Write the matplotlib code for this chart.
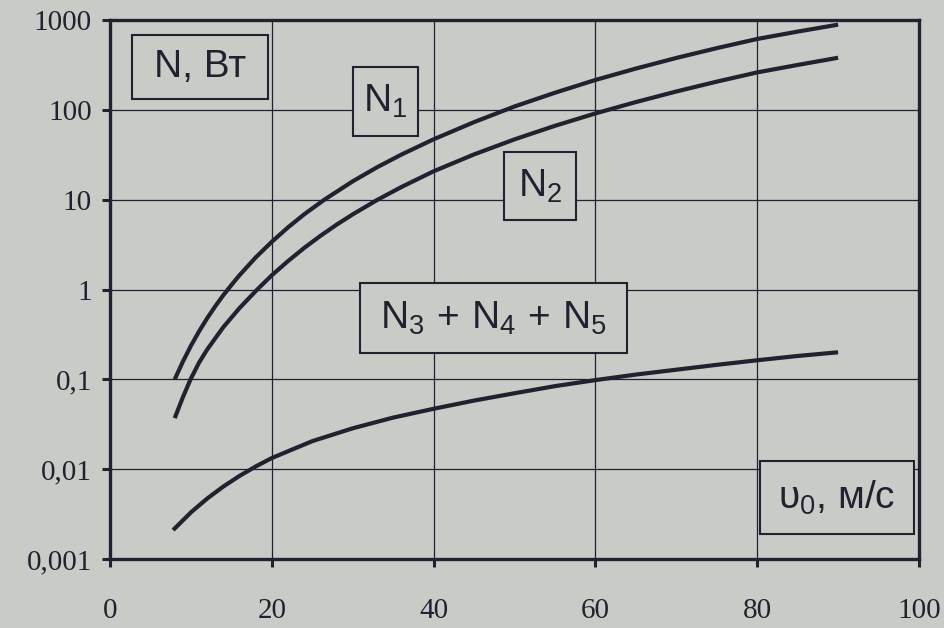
import matplotlib
matplotlib.use("Agg")
import matplotlib.pyplot as plt
from matplotlib.patches import Rectangle
from matplotlib.ticker import FixedLocator, FixedFormatter, NullLocator

# ---- data ----
x_n1 = [8, 9, 10, 11, 12, 13, 14, 15, 16, 18, 20, 22, 24, 26.5, 30, 33, 36, 40,
        45, 50, 55, 60, 65, 70, 75, 80, 85, 90]
n1 = [0.10, 0.157, 0.236, 0.341, 0.477, 0.648, 0.863, 1.12, 1.44, 2.27, 3.4, 4.91,
      6.87, 10.0, 16.0, 22.9, 31.7, 47, 73, 109, 155, 215, 288, 378, 486, 615,
      743, 888]

x_n2 = [8, 9, 10, 11, 12, 14, 16, 18.2, 20, 22, 24, 26, 28, 30, 33, 36, 40, 45,
        50, 55, 60, 65, 70, 75, 80, 85, 90]
n2 = [0.037, 0.063, 0.102, 0.153, 0.214, 0.38, 0.62, 1.0, 1.44, 2.07, 2.9, 3.95,
      5.26, 6.86, 9.9, 13.8, 20.7, 31.9, 46.9, 66.4, 91.2, 122, 160, 206, 261,
      316, 380]

x_n3 = [7.8, 10, 12, 14, 16, 18, 20, 25, 30, 35, 40, 45, 50, 55, 60, 65, 70, 75,
        80, 85, 90]
n345 = [0.0021, 0.0033, 0.0047, 0.0064, 0.0084, 0.0107, 0.0133, 0.0205, 0.0285,
        0.0375, 0.047, 0.058, 0.07, 0.084, 0.098, 0.113, 0.128, 0.145, 0.163,
        0.182, 0.2]

x_ticks = [0, 20, 40, 60, 80, 100]
x_tick_labels = ["0", "20", "40", "60", "80", "100"]
y_ticks = [0.001, 0.01, 0.1, 1, 10, 100, 1000]
y_tick_labels = ["0,001", "0,01", "0,1", "1", "10", "100", "1000"]

label_y = "N, Вт"
label_x = r"$\mathregular{υ_0}$, м/с"
label_n1 = r"$\mathregular{N_1}$"
label_n2 = r"$\mathregular{N_2}$"
label_n345 = r"$\mathregular{N_3\,+\,N_4\,+\,N_5}$"

# ---- style ----
BG = "#c8cbc6"
INK = "#20232f"
plt.rcParams["mathtext.fontset"] = "custom"
plt.rcParams["mathtext.rm"] = "Liberation Sans"
plt.rcParams["mathtext.it"] = "Liberation Sans:italic"
plt.rcParams["mathtext.bf"] = "Liberation Sans:bold"

fig = plt.figure(figsize=(9.44, 6.28), dpi=100, facecolor=BG)
ax = fig.add_axes([110 / 944, 1 - 559 / 628, 809 / 944, 539 / 628])
ax.set_facecolor(BG)
ax.set_yscale("log")
ax.set_xlim(0, 100)
ax.set_ylim(0.001, 1000)

for s in ax.spines.values():
    s.set_color(INK)
    s.set_linewidth(2.4)

ax.xaxis.set_major_locator(FixedLocator(x_ticks))
ax.xaxis.set_major_formatter(FixedFormatter(x_tick_labels))
ax.yaxis.set_major_locator(FixedLocator(y_ticks))
ax.yaxis.set_major_formatter(FixedFormatter(y_tick_labels))
ax.yaxis.set_minor_locator(NullLocator())
ax.xaxis.set_minor_locator(NullLocator())

ax.tick_params(axis="both", which="major", direction="out", color=INK,
               width=2.2, length=6, labelcolor=INK)
ax.tick_params(axis="x", pad=22)
ax.tick_params(axis="y", pad=7)
for lab in ax.get_xticklabels() + ax.get_yticklabels():
    lab.set_fontfamily("Liberation Serif")
    lab.set_fontsize(21)

ax.grid(True, which="major", color=INK, linewidth=0.9)
ax.set_axisbelow(True)

lw = 3.0
ax.plot(x_n1, n1, color=INK, lw=lw, solid_capstyle="butt", zorder=3)
ax.plot(x_n2, n2, color=INK, lw=lw, solid_capstyle="butt", zorder=3)
ax.plot(x_n3, n345, color=INK, lw=lw, solid_capstyle="butt", zorder=3)


def boxed(x0, y0, x1, y1, text, fs=28):
    ax.add_patch(Rectangle((x0, y0), x1 - x0, y1 - y0, transform=ax.transAxes,
                           facecolor=BG, edgecolor=INK, lw=1.5, zorder=4,
                           clip_on=False))
    ax.text((x0 + x1) / 2, (y0 + y1) / 2, text, transform=ax.transAxes,
            ha="center", va="center", fontsize=fs, color=INK,
            fontfamily="Liberation Sans", zorder=5)


boxed(0.027, 0.853, 0.195, 0.972, label_y)
boxed(0.300, 0.785, 0.381, 0.913, label_n1)
boxed(0.487, 0.629, 0.576, 0.755, label_n2)
boxed(0.309, 0.382, 0.639, 0.512, label_n345)
boxed(0.803, 0.046, 0.994, 0.182, label_x, fs=28)

fig.savefig("out.png", dpi=100, facecolor=BG)
